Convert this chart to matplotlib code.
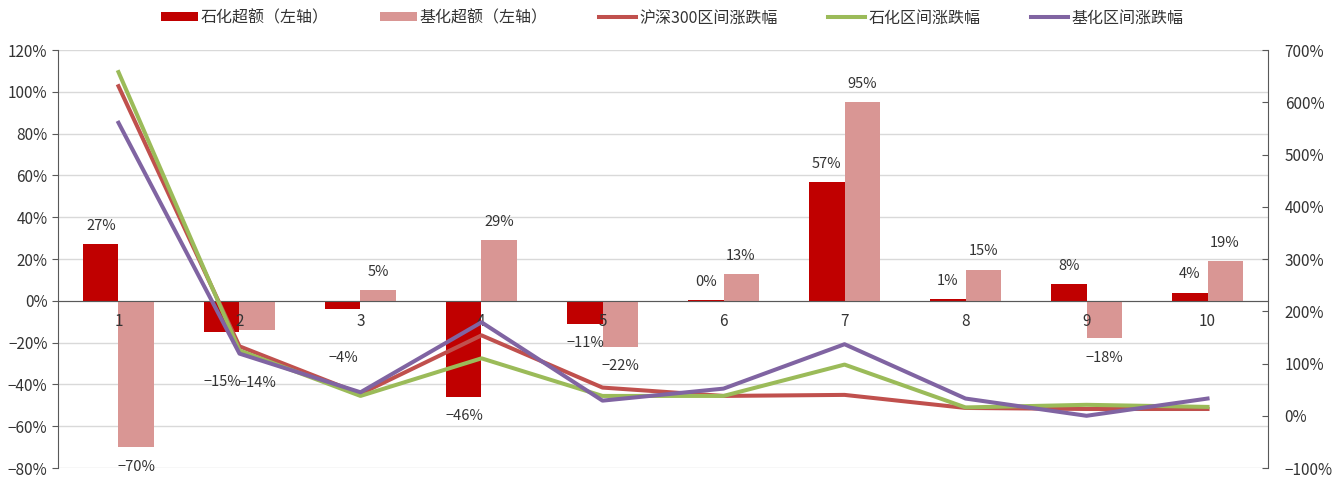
import numpy as np
import matplotlib
matplotlib.use('Agg')
import matplotlib.pyplot as plt
from matplotlib.ticker import FuncFormatter, MultipleLocator

plt.rcParams['font.family'] = ['Noto Sans CJK SC', 'DejaVu Sans']
plt.rcParams['axes.unicode_minus'] = True

# data (percent)
categories = ['1', '2', '3', '4', '5', '6', '7', '8', '9', '10']
shihua_excess = [27, -15, -4, -46, -11, 0.4, 57, 1, 8, 4]
jihua_excess = [-70, -14, 5, 29, -22, 13, 95, 15, -18, 19]
shihua_labels = ['27%', '-15%', '-4%', '-46%', '-11%', '0%', '57%', '1%', '8%', '4%']
jihua_labels = ['-70%', '-14%', '5%', '29%', '-22%', '13%', '95%', '15%', '-18%', '19%']
hs300_chg = [631, 133, 42, 154, 54, 38, 40, 15, 13, 13]
shihua_chg = [658, 125, 38, 110, 38, 38, 98, 16, 21, 17]
jihua_chg = [561, 119, 45, 179, 29, 52, 137, 33, 0, 33]

# manually moved labels in the original (extra points downwards)
extra_drop = {('s', 1): 22, ('j', 1): 24, ('s', 2): 21}

c_dark = '#C00000'
c_pink = '#D99694'
c_red = '#C0504D'
c_green = '#9BBB59'
c_purple = '#8064A2'
txt = '#333333'

def pct(v, pos=None):
    return f'{v:.0f}%'.replace('-', '\u2212')

fig = plt.figure(figsize=(13.39, 4.82), dpi=100)
ax = fig.add_axes([0.0433, 0.029, 0.9037, 0.867])
x = np.arange(1, len(categories) + 1)
w = 0.29

b1 = ax.bar(x - w / 2, shihua_excess, w, color=c_dark, label='石化超额（左轴）', zorder=2)
b2 = ax.bar(x + w / 2, jihua_excess, w, color=c_pink, label='基化超额（左轴）', zorder=2)

for key, bars, labels in (('s', b1, shihua_labels), ('j', b2, jihua_labels)):
    for i, (rect, lab) in enumerate(zip(bars, labels)):
        v = rect.get_height()
        cx = rect.get_x() + rect.get_width() / 2
        if v >= 0:
            off = 13
        else:
            off = -14 - extra_drop.get((key, i), 0)
        ax.annotate(lab.replace('-', '\u2212'), (cx, v), xytext=(0, off),
                    textcoords='offset points', ha='center', va='center',
                    fontsize=10.5, color=txt, zorder=5)

ax.set_xlim(0.5, 10.5)
ax.set_ylim(-80, 120)
ax.yaxis.set_major_locator(MultipleLocator(20))
ax.yaxis.set_major_formatter(FuncFormatter(pct))
ax.grid(axis='y', color='#D9D9D9', linewidth=1)
ax.set_axisbelow(True)
ax.xaxis.set_zorder(4)
ax.set_xticks(x)
ax.set_xticklabels(categories)
ax.spines['bottom'].set_position(('data', 0))
ax.spines['bottom'].set_color('#595959')
ax.spines['top'].set_visible(False)
ax.spines['right'].set_visible(False)
ax.spines['left'].set_color('#595959')
ax.tick_params(axis='x', length=0, pad=9, labelsize=11, labelcolor=txt)
ax.tick_params(axis='y', length=4, direction='out', labelsize=11, labelcolor=txt, color='#595959')

ax2 = ax.twinx()
ax2.set_ylim(-100, 700)
ax2.yaxis.set_major_locator(MultipleLocator(100))
ax2.yaxis.set_major_formatter(FuncFormatter(pct))
l1, = ax2.plot(x, hs300_chg, color=c_red, lw=2.9, label='沪深300区间涨跌幅', zorder=3)
l2, = ax2.plot(x, shihua_chg, color=c_green, lw=2.9, label='石化区间涨跌幅', zorder=3)
l3, = ax2.plot(x, jihua_chg, color=c_purple, lw=2.9, label='基化区间涨跌幅', zorder=3)
for s in ('top', 'left', 'bottom'):
    ax2.spines[s].set_visible(False)
ax2.spines['right'].set_color('#595959')
ax2.tick_params(axis='y', length=4, direction='in', labelsize=11, labelcolor=txt, color='#595959', pad=12)

fig.legend([b1, b2, l1, l2, l3],
           ['石化超额（左轴）', '基化超额（左轴）', '沪深300区间涨跌幅', '石化区间涨跌幅', '基化区间涨跌幅'],
           loc='upper center', bbox_to_anchor=(0.502, 1.01), ncol=5, frameon=False,
           fontsize=11.5, handlelength=2.3, handleheight=0.5, columnspacing=3.2,
           handletextpad=0.2, labelcolor=txt)

fig.savefig('out.png', dpi=100)
